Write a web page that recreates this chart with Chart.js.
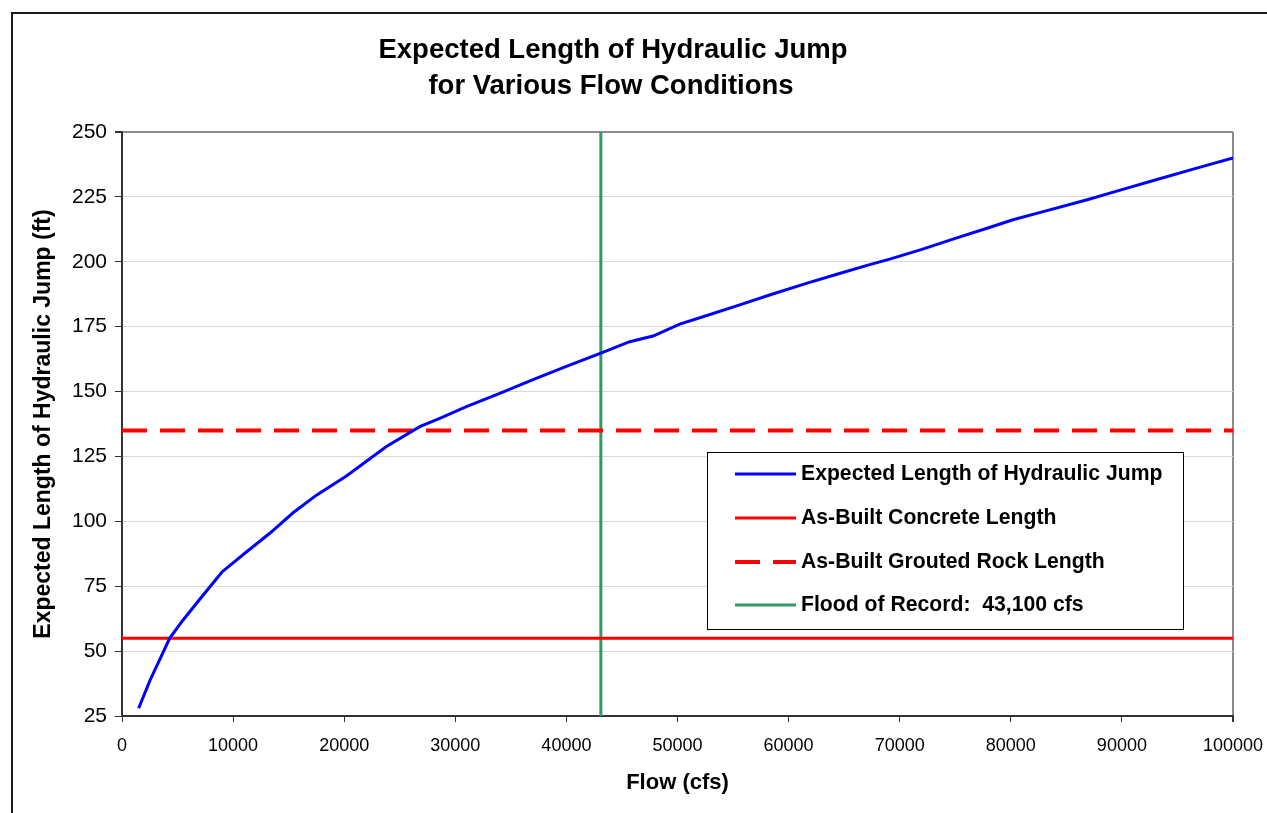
<!DOCTYPE html>
<html><head><meta charset="utf-8">
<script src="https://cdn.jsdelivr.net/npm/chart.js@4/dist/chart.umd.min.js"></script>
<style>html,body{margin:0;padding:0;background:#fff;overflow:hidden}#wrap{position:relative;width:1267px;height:813px}</style>
</head><body><div id="wrap"><canvas id="c" width="1267" height="813"></canvas></div>
<script>
const chartTitleLines = ['Expected Length of Hydraulic Jump', 'for Various Flow Conditions'];
const xAxisTitle = 'Flow (cfs)';
const yAxisTitle = 'Expected Length of Hydraulic Jump (ft)';
const seriesLabels = ['Expected Length of Hydraulic Jump', 'As-Built Concrete Length', 'As-Built Grouted Rock Length', 'Flood of Record:  43,100 cfs'];
const flowCfs = [1500, 2500, 4300, 5500, 7000, 9000, 11000, 13300, 15400, 17500, 20200, 23800, 26800, 28600, 31000, 34000, 37000, 40000, 43100, 45700, 47800, 50200, 53000, 55600, 58500, 61600, 64500, 67300, 69100, 72000, 75000, 78000, 80200, 83000, 86800, 90000, 93000, 96500, 100000];
const jumpLengthFt = [28, 38.5, 55, 62, 70, 80.5, 87.5, 95.4, 103.3, 110.1, 117.5, 128.8, 136.5, 139.7, 144.2, 149.3, 154.6, 159.7, 164.8, 169.2, 171.4, 176, 179.8, 183.4, 187.5, 191.7, 195.4, 198.9, 201, 204.8, 209, 213.1, 216.2, 219.4, 223.8, 227.8, 231.5, 235.8, 240];
const concreteLengthFt = 55;
const groutedRockLengthFt = 135;
const floodOfRecordCfs = 43100;
const xRange = [0, 100000];
const yRange = [25, 250];
const xTickValues = [0, 10000, 20000, 30000, 40000, 50000, 60000, 70000, 80000, 90000, 100000];
const yTickValues = [25, 50, 75, 100, 125, 150, 175, 200, 225, 250];

const FONT = "'Liberation Sans', Arial, sans-serif";

const framePlugin = {
  id: 'frameAndTitle',
  beforeDraw(chart) {
    const ctx = chart.ctx;
    ctx.save();
    ctx.fillStyle = '#fff';
    ctx.fillRect(0, 0, chart.width, chart.height);
    ctx.strokeStyle = '#1a1a1a';
    ctx.lineWidth = 2;
    ctx.strokeRect(12, 13, chart.width + 50, chart.height + 50);
    ctx.restore();
  },
  afterDraw(chart) {
    const ctx = chart.ctx;
    ctx.save();
    ctx.fillStyle = '#000';
    ctx.font = 'bold 27.5px ' + FONT;
    ctx.textAlign = 'center';
    ctx.textBaseline = 'middle';
    ctx.fillText(chartTitleLines[0], 613, 50);
    ctx.fillText(chartTitleLines[1], 611, 86);
    ctx.restore();
  }
};

const legendPlugin = {
  id: 'boxLegend',
  afterDatasetsDraw(chart) {
    const ctx = chart.ctx;
    const bx = 707, by = 452, bw = 476, bh = 177;
    ctx.save();
    ctx.fillStyle = '#fff';
    ctx.fillRect(bx, by, bw, bh);
    ctx.strokeStyle = '#000';
    ctx.lineWidth = 1;
    ctx.strokeRect(bx + 0.5, by + 0.5, bw, bh);
    const rows = [474, 518, 562, 605];
    chart.data.datasets.forEach((ds, i) => {
      const y = rows[i];
      ctx.beginPath();
      ctx.strokeStyle = ds.borderColor;
      ctx.lineWidth = ds.borderWidth;
      ctx.setLineDash(ds.borderDash || []);
      ctx.moveTo(735, y);
      ctx.lineTo(796, y);
      ctx.stroke();
      ctx.setLineDash([]);
      ctx.fillStyle = '#000';
      ctx.font = 'bold 21.2px ' + FONT;
      ctx.textAlign = 'left';
      ctx.textBaseline = 'middle';
      ctx.fillText(ds.label, 801, y);
    });
    ctx.restore();
  }
};

new Chart(document.getElementById('c'), {
  type: 'line',
  data: {
    datasets: [
      {
        label: seriesLabels[0],
        data: flowCfs.map((x, i) => ({ x, y: jumpLengthFt[i] })),
        borderColor: '#0000ff', borderWidth: 3, pointRadius: 0, tension: 0, fill: false
      },
      {
        label: seriesLabels[1],
        data: [{ x: xRange[0], y: concreteLengthFt }, { x: xRange[1], y: concreteLengthFt }],
        borderColor: '#ff0000', borderWidth: 3, pointRadius: 0, fill: false
      },
      {
        label: seriesLabels[2],
        data: [{ x: xRange[0], y: groutedRockLengthFt }, { x: xRange[1], y: groutedRockLengthFt }],
        borderColor: '#ff0000', borderWidth: 4, borderDash: [25, 13], pointRadius: 0, fill: false
      },
      {
        label: seriesLabels[3],
        data: [{ x: floodOfRecordCfs, y: yRange[0] }, { x: floodOfRecordCfs, y: yRange[1] }],
        borderColor: '#339966', borderWidth: 3, pointRadius: 0, fill: false
      }
    ]
  },
  options: {
    responsive: false,
    animation: false,
    devicePixelRatio: 1,
    layout: { padding: { top: 132, right: 34, bottom: 0, left: 0 } },
    plugins: { legend: { display: false }, title: { display: false }, tooltip: { enabled: false } },
    scales: {
      x: {
        type: 'linear', min: xRange[0], max: xRange[1],
        afterBuildTicks: s => { s.ticks = xTickValues.map(v => ({ value: v })); },
        afterFit: s => { s.height = 97; s.paddingLeft = 0; s.paddingRight = 0; },
        ticks: { callback: v => String(v), color: '#000', font: { family: FONT, size: 18 }, padding: 13, maxRotation: 0, autoSkip: false },
        grid: {
          color: c => (c.tick && c.tick.value === xRange[1]) ? '#8c8c8c' : 'rgba(0,0,0,0)',
          lineWidth: c => (c.tick && c.tick.value === xRange[1]) ? 2 : 1,
          tickColor: '#333', tickLength: 6, drawTicks: true
        },
        border: { color: '#333', width: 2 },
        title: { display: true, text: xAxisTitle, color: '#000', font: { family: FONT, size: 22, weight: 'bold' }, padding: { top: 0, bottom: 17 } }
      },
      y: {
        type: 'linear', min: yRange[0], max: yRange[1],
        afterBuildTicks: s => { s.ticks = yTickValues.map(v => ({ value: v })); },
        afterFit: s => { s.width = 122; s.paddingTop = 0; s.paddingBottom = 0; },
        ticks: { callback: v => String(v), color: '#000', font: { family: FONT, size: 21 }, padding: 8 },
        grid: {
          color: c => (c.tick && c.tick.value === yRange[1]) ? '#8c8c8c' : '#d9d9d9',
          lineWidth: c => (c.tick && c.tick.value === yRange[1]) ? 2 : 1,
          tickColor: '#333', tickLength: 7
        },
        border: { color: '#333', width: 2 },
        title: { display: true, text: yAxisTitle, color: '#000', font: { family: FONT, size: 23, weight: 'bold' }, padding: { top: 30, bottom: 0 } }
      }
    }
  },
  plugins: [framePlugin, legendPlugin]
});
</script>
</body></html>
